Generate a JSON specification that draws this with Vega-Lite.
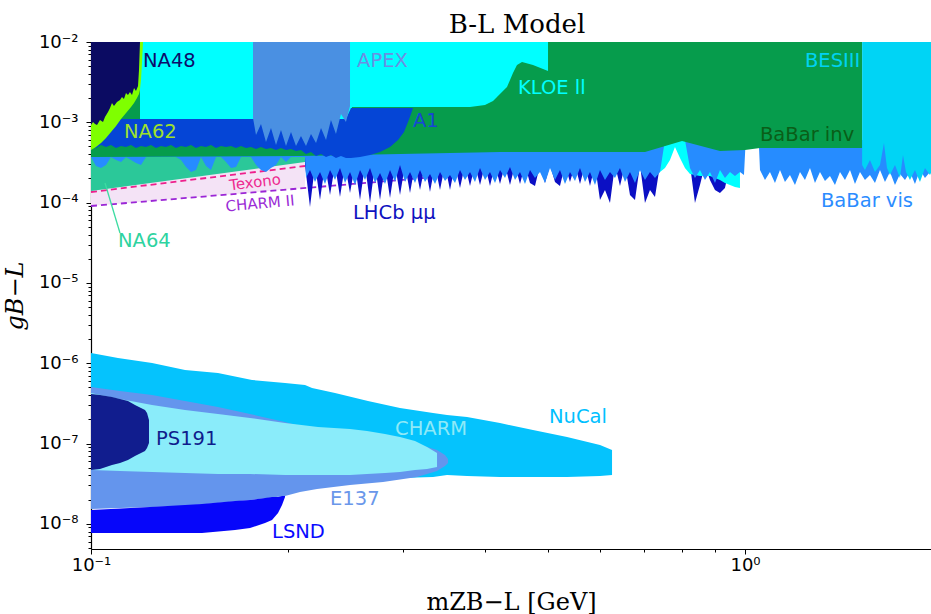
{
"$schema": "https://vega.github.io/schema/vega-lite/v6.json",
"width": 840, "height": 507,
"autosize": {"type": "none"},
"padding": {"left": 91, "top": 42, "right": 0, "bottom": 65},
"background": "white",
"config": {"view": {"stroke": null}},
"title": {"text": "B-L Model", "font": "DejaVu Serif", "fontSize": 26, "fontWeight": "normal", "color": "black", "anchor": "middle", "offset": -26, "baseline": "alphabetic", "dx": 6},
"datasets": {
"lavender": [{"x":0.1,"y":4e-4,"y2":9.07e-5},{"x":0.21243,"y":4e-4,"y2":1.519e-4}],
"texono": [{"x":0.1,"y":1.355e-4},{"x":0.21243,"y":2.856e-4}],
"charm2": [{"x":0.1,"y":9.07e-5},{"x":0.32987,"y":2.054e-4}],
"na64": [{"x":0.1,"y":4e-4,"y2":1.395e-4},{"x":0.21243,"y":4e-4,"y2":3.203e-4}],
"lhcb": [
{"x":0.21243,"y":4.5e-4,"y2":2.938e-4},{"x":0.2162,"y":4.5e-4,"y2":8.81e-5},{"x":0.22004,"y":4.5e-4,"y2":2.938e-4},{"x":0.22395,"y":4.5e-4,"y2":1.077e-4},
{"x":0.22793,"y":4.5e-4,"y2":2.938e-4},{"x":0.23198,"y":4.5e-4,"y2":1.243e-4},{"x":0.2361,"y":4.5e-4,"y2":2.938e-4},{"x":0.24029,"y":4.5e-4,"y2":1.174e-4},
{"x":0.24456,"y":4.5e-4,"y2":2.938e-4},{"x":0.2489,"y":4.5e-4,"y2":1.317e-4},{"x":0.25332,"y":4.5e-4,"y2":2.938e-4},{"x":0.25782,"y":4.5e-4,"y2":1.077e-4},
{"x":0.2624,"y":4.5e-4,"y2":2.938e-4},{"x":0.26706,"y":4.5e-4,"y2":9.886e-5},{"x":0.2718,"y":4.5e-4,"y2":2.938e-4},{"x":0.27663,"y":4.5e-4,"y2":1.077e-4},
{"x":0.28154,"y":4.5e-4,"y2":2.938e-4},{"x":0.28654,"y":4.5e-4,"y2":1.141e-4},{"x":0.29163,"y":4.5e-4,"y2":2.938e-4},{"x":0.29681,"y":4.5e-4,"y2":1.243e-4},
{"x":0.30208,"y":4.5e-4,"y2":2.938e-4},{"x":0.30744,"y":4.5e-4,"y2":1.317e-4},{"x":0.3129,"y":4.5e-4,"y2":2.938e-4},{"x":0.31846,"y":4.5e-4,"y2":1.435e-4},
{"x":0.32411,"y":4.5e-4,"y2":2.938e-4},{"x":0.32987,"y":4.5e-4,"y2":1.355e-4},{"x":0.33573,"y":4.5e-4,"y2":2.938e-4},{"x":0.34169,"y":4.5e-4,"y2":1.435e-4},
{"x":0.34776,"y":4.5e-4,"y2":2.938e-4},{"x":0.35393,"y":4.5e-4,"y2":1.435e-4},{"x":0.36022,"y":4.5e-4,"y2":2.938e-4},{"x":0.36661,"y":4.5e-4,"y2":1.519e-4},
{"x":0.37312,"y":4.5e-4,"y2":2.938e-4},{"x":0.37975,"y":4.5e-4,"y2":1.609e-4},{"x":0.38649,"y":4.5e-4,"y2":2.938e-4},{"x":0.39336,"y":4.5e-4,"y2":1.656e-4},
{"x":0.40034,"y":4.5e-4,"y2":2.938e-4},{"x":0.40745,"y":4.5e-4,"y2":1.609e-4},{"x":0.41469,"y":4.5e-4,"y2":2.938e-4},{"x":0.42205,"y":4.5e-4,"y2":1.704e-4},
{"x":0.42955,"y":4.5e-4,"y2":2.938e-4},{"x":0.43717,"y":4.5e-4,"y2":1.656e-4},{"x":0.44494,"y":4.5e-4,"y2":2.938e-4},{"x":0.45284,"y":4.5e-4,"y2":1.704e-4},
{"x":0.46088,"y":4.5e-4,"y2":2.938e-4},{"x":0.46906,"y":4.5e-4,"y2":1.754e-4},{"x":0.47739,"y":4.5e-4,"y2":1.609e-4},{"x":0.48587,"y":4.5e-4,"y2":2.938e-4},
{"x":0.4945,"y":4.5e-4,"y2":1.754e-4},{"x":0.50328,"y":4.5e-4,"y2":2.938e-4},{"x":0.51222,"y":4.5e-4,"y2":1.805e-4},{"x":0.52131,"y":4.5e-4,"y2":1.609e-4},
{"x":0.53057,"y":4.5e-4,"y2":2.938e-4},{"x":0.53999,"y":4.5e-4,"y2":1.805e-4},{"x":0.54958,"y":4.5e-4,"y2":2.938e-4},{"x":0.55934,"y":4.5e-4,"y2":1.704e-4},
{"x":0.56927,"y":4.5e-4,"y2":2.938e-4},{"x":0.57938,"y":4.5e-4,"y2":1.609e-4},{"x":0.58966,"y":4.5e-4,"y2":2.938e-4},{"x":0.60013,"y":4.5e-4,"y2":1.077e-4},
{"x":0.61079,"y":4.5e-4,"y2":1.435e-4},{"x":0.62164,"y":4.5e-4,"y2":9.886e-5},{"x":0.63268,"y":4.5e-4,"y2":2.938e-4},{"x":0.64391,"y":4.5e-4,"y2":1.609e-4},
{"x":0.65534,"y":4.5e-4,"y2":2.938e-4},{"x":0.66698,"y":4.5e-4,"y2":1.243e-4},{"x":0.67882,"y":4.5e-4,"y2":1.077e-4},{"x":0.69088,"y":4.5e-4,"y2":2.938e-4},
{"x":0.70314,"y":4.5e-4,"y2":9.886e-5},{"x":0.71563,"y":4.5e-4,"y2":1.435e-4},{"x":0.72834,"y":4.5e-4,"y2":1.174e-4},{"x":0.74127,"y":4.5e-4,"y2":2.938e-4},
{"x":0.75443,"y":4.5e-4,"y2":4.5e-4},{"x":0.80946,"y":4.5e-4,"y2":4.5e-4},{"x":0.82383,"y":4.5e-4,"y2":2.938e-4},{"x":0.83846,"y":4.5e-4,"y2":9.886e-5},
{"x":0.85335,"y":4.5e-4,"y2":1.656e-4},{"x":0.8685,"y":4.5e-4,"y2":2.938e-4},{"x":0.88392,"y":4.5e-4,"y2":1.911e-4},{"x":0.89962,"y":4.5e-4,"y2":1.435e-4},
{"x":0.91559,"y":4.5e-4,"y2":1.317e-4},{"x":0.93185,"y":4.5e-4,"y2":1.519e-4},{"x":0.9484,"y":4.5e-4,"y2":2.938e-4}],
"kloe2": [
{"x":0.72834,"y":6e-4,"y2":2.206e-4},{"x":0.74127,"y":6e-4,"y2":2.405e-4},{"x":0.75443,"y":6e-4,"y2":2.697e-4},{"x":0.76783,"y":6e-4,"y2":3.392e-4},
{"x":0.78146,"y":6e-4,"y2":4.926e-4},{"x":0.79534,"y":6e-4,"y2":3.592e-4},{"x":0.80946,"y":6e-4,"y2":2.697e-4},{"x":0.82383,"y":6e-4,"y2":2.271e-4},
{"x":0.85335,"y":6e-4,"y2":2.144e-4},{"x":0.88392,"y":6e-4,"y2":2.144e-4},{"x":0.91559,"y":6e-4,"y2":1.911e-4},{"x":0.93185,"y":6e-4,"y2":1.754e-4},
{"x":0.9484,"y":6e-4,"y2":1.656e-4},{"x":0.96524,"y":6e-4,"y2":1.564e-4},{"x":0.98238,"y":6e-4,"y2":1.519e-4}],
"babarvis": [
{"x":0.1,"y":6e-4,"y2":3.697e-4},{"x":0.10178,"y":6e-4,"y2":2.856e-4},{"x":0.10359,"y":6e-4,"y2":2.697e-4},{"x":0.10543,"y":6e-4,"y2":2.938e-4},
{"x":0.1073,"y":6e-4,"y2":3.697e-4},{"x":0.10921,"y":6e-4,"y2":3.392e-4},{"x":0.11115,"y":6e-4,"y2":3.203e-4},{"x":0.11312,"y":6e-4,"y2":3.697e-4},
{"x":0.11513,"y":6e-4,"y2":3.392e-4},{"x":0.11717,"y":6e-4,"y2":3.113e-4},{"x":0.11925,"y":6e-4,"y2":2.938e-4},{"x":0.12137,"y":6e-4,"y2":3.697e-4},
{"x":0.13489,"y":6e-4,"y2":3.697e-4},{"x":0.13729,"y":6e-4,"y2":3.392e-4},{"x":0.13972,"y":6e-4,"y2":2.775e-4},{"x":0.14221,"y":6e-4,"y2":2.405e-4},
{"x":0.14473,"y":6e-4,"y2":2.547e-4},{"x":0.1473,"y":6e-4,"y2":3.697e-4},{"x":0.14992,"y":6e-4,"y2":2.856e-4},{"x":0.15258,"y":6e-4,"y2":2.547e-4},
{"x":0.15529,"y":6e-4,"y2":3.697e-4},{"x":0.15805,"y":6e-4,"y2":3.697e-4},{"x":0.16085,"y":6e-4,"y2":3.203e-4},{"x":0.16371,"y":6e-4,"y2":2.697e-4},
{"x":0.16662,"y":6e-4,"y2":2.775e-4},{"x":0.16958,"y":6e-4,"y2":3.697e-4},{"x":0.17565,"y":6e-4,"y2":3.697e-4},{"x":0.17877,"y":6e-4,"y2":2.938e-4},
{"x":0.18194,"y":6e-4,"y2":2.547e-4},{"x":0.18517,"y":6e-4,"y2":2.405e-4},{"x":0.18846,"y":6e-4,"y2":2.697e-4},{"x":0.19181,"y":6e-4,"y2":2.938e-4},
{"x":0.19521,"y":6e-4,"y2":3.697e-4},{"x":0.19868,"y":6e-4,"y2":3.203e-4},{"x":0.20221,"y":6e-4,"y2":3.697e-4},{"x":0.21243,"y":6e-4,"y2":3.697e-4},
{"x":0.21317,"y":6e-4,"y2":2.024e-4},{"x":0.2162,"y":6e-4,"y2":2.547e-4},{"x":0.22004,"y":6e-4,"y2":1.805e-4},{"x":0.22395,"y":6e-4,"y2":2.405e-4},
{"x":0.22793,"y":6e-4,"y2":1.704e-4},{"x":0.23198,"y":6e-4,"y2":2.547e-4},{"x":0.2361,"y":6e-4,"y2":1.911e-4},{"x":0.24029,"y":6e-4,"y2":2.697e-4},
{"x":0.24456,"y":6e-4,"y2":1.754e-4},{"x":0.2489,"y":6e-4,"y2":2.405e-4},{"x":0.25332,"y":6e-4,"y2":1.656e-4},{"x":0.25782,"y":6e-4,"y2":2.547e-4},
{"x":0.2624,"y":6e-4,"y2":1.911e-4},{"x":0.26706,"y":6e-4,"y2":2.697e-4},{"x":0.2718,"y":6e-4,"y2":1.754e-4},{"x":0.27663,"y":6e-4,"y2":2.336e-4},
{"x":0.28154,"y":6e-4,"y2":1.704e-4},{"x":0.28654,"y":6e-4,"y2":2.547e-4},{"x":0.29163,"y":6e-4,"y2":1.805e-4},{"x":0.29681,"y":6e-4,"y2":2.938e-4},
{"x":0.30208,"y":6e-4,"y2":1.805e-4},{"x":0.30744,"y":6e-4,"y2":2.405e-4},{"x":0.3129,"y":6e-4,"y2":1.754e-4},{"x":0.31846,"y":6e-4,"y2":2.547e-4},
{"x":0.32411,"y":6e-4,"y2":1.805e-4},{"x":0.32987,"y":6e-4,"y2":2.271e-4},{"x":0.33573,"y":6e-4,"y2":1.704e-4},{"x":0.34169,"y":6e-4,"y2":2.405e-4},
{"x":0.34776,"y":6e-4,"y2":1.858e-4},{"x":0.35393,"y":6e-4,"y2":2.206e-4},{"x":0.36022,"y":6e-4,"y2":1.754e-4},{"x":0.36661,"y":6e-4,"y2":2.547e-4},
{"x":0.37312,"y":6e-4,"y2":1.911e-4},{"x":0.37975,"y":6e-4,"y2":2.405e-4},{"x":0.38649,"y":6e-4,"y2":1.805e-4},{"x":0.39336,"y":6e-4,"y2":2.697e-4},
{"x":0.40034,"y":6e-4,"y2":1.911e-4},{"x":0.40745,"y":6e-4,"y2":2.405e-4},{"x":0.41469,"y":6e-4,"y2":1.754e-4},{"x":0.42205,"y":6e-4,"y2":2.547e-4},
{"x":0.42955,"y":6e-4,"y2":2.024e-4},{"x":0.43717,"y":6e-4,"y2":2.775e-4},{"x":0.44494,"y":6e-4,"y2":1.911e-4},{"x":0.45284,"y":6e-4,"y2":2.405e-4},
{"x":0.46088,"y":6e-4,"y2":1.704e-4},{"x":0.46906,"y":6e-4,"y2":2.547e-4},{"x":0.47739,"y":6e-4,"y2":2.024e-4},{"x":0.48587,"y":6e-4,"y2":2.405e-4},
{"x":0.4945,"y":6e-4,"y2":1.754e-4},{"x":0.50328,"y":6e-4,"y2":2.697e-4},{"x":0.51222,"y":6e-4,"y2":1.911e-4},{"x":0.52131,"y":6e-4,"y2":2.547e-4},
{"x":0.53057,"y":6e-4,"y2":1.704e-4},{"x":0.53999,"y":6e-4,"y2":2.405e-4},{"x":0.54958,"y":6e-4,"y2":1.858e-4},{"x":0.55934,"y":6e-4,"y2":2.697e-4},
{"x":0.56927,"y":6e-4,"y2":1.805e-4},{"x":0.57938,"y":6e-4,"y2":2.405e-4},{"x":0.58966,"y":6e-4,"y2":1.656e-4},{"x":0.60013,"y":6e-4,"y2":2.547e-4},
{"x":0.61079,"y":6e-4,"y2":1.911e-4},{"x":0.62164,"y":6e-4,"y2":2.405e-4},{"x":0.63268,"y":6e-4,"y2":2.024e-4},{"x":0.64391,"y":6e-4,"y2":2.697e-4},
{"x":0.65534,"y":6e-4,"y2":1.805e-4},{"x":0.66698,"y":6e-4,"y2":2.405e-4},{"x":0.67882,"y":6e-4,"y2":1.754e-4},{"x":0.69088,"y":6e-4,"y2":2.547e-4},
{"x":0.70314,"y":6e-4,"y2":1.911e-4},{"x":0.71563,"y":6e-4,"y2":2.405e-4},{"x":0.72834,"y":6e-4,"y2":2.024e-4},{"x":0.74127,"y":6e-4,"y2":2.405e-4},
{"x":0.75443,"y":6e-4,"y2":6e-4},{"x":0.80946,"y":6e-4,"y2":6e-4},{"x":0.82383,"y":6e-4,"y2":2.697e-4},{"x":0.83846,"y":6e-4,"y2":2.024e-4},
{"x":0.85335,"y":6e-4,"y2":2.547e-4},{"x":0.8685,"y":6e-4,"y2":1.911e-4},{"x":0.88392,"y":6e-4,"y2":2.405e-4},{"x":0.89962,"y":6e-4,"y2":1.754e-4},
{"x":0.91559,"y":6e-4,"y2":2.547e-4},{"x":0.93185,"y":6e-4,"y2":2.024e-4},{"x":0.9484,"y":6e-4,"y2":2.405e-4},{"x":0.96524,"y":6e-4,"y2":2.144e-4},
{"x":0.98238,"y":6e-4,"y2":2.405e-4},{"x":0.9963,"y":6e-4,"y2":2.206e-4},{"x":1.0013,"y":6e-4,"y2":4.926e-4},{"x":1.0504,"y":6e-4,"y2":4.926e-4},
{"x":1.0541,"y":6e-4,"y2":2.547e-4},{"x":1.0728,"y":6e-4,"y2":1.911e-4},{"x":1.0918,"y":6e-4,"y2":2.405e-4},{"x":1.1112,"y":6e-4,"y2":1.754e-4},
{"x":1.131,"y":6e-4,"y2":2.547e-4},{"x":1.151,"y":6e-4,"y2":1.805e-4},{"x":1.1715,"y":6e-4,"y2":2.206e-4},{"x":1.1923,"y":6e-4,"y2":1.656e-4},
{"x":1.2135,"y":6e-4,"y2":2.405e-4},{"x":1.235,"y":6e-4,"y2":1.911e-4},{"x":1.257,"y":6e-4,"y2":2.697e-4},{"x":1.2793,"y":6e-4,"y2":1.754e-4},
{"x":1.302,"y":6e-4,"y2":2.405e-4},{"x":1.3251,"y":6e-4,"y2":1.858e-4},{"x":1.3487,"y":6e-4,"y2":2.144e-4},{"x":1.3726,"y":6e-4,"y2":1.656e-4},
{"x":1.397,"y":6e-4,"y2":2.405e-4},{"x":1.4218,"y":6e-4,"y2":1.911e-4},{"x":1.4471,"y":6e-4,"y2":2.547e-4},{"x":1.4728,"y":6e-4,"y2":1.704e-4},
{"x":1.4989,"y":6e-4,"y2":2.405e-4},{"x":1.5255,"y":6e-4,"y2":1.911e-4},{"x":1.5526,"y":6e-4,"y2":2.206e-4},{"x":1.5802,"y":6e-4,"y2":1.754e-4},
{"x":1.6083,"y":6e-4,"y2":2.547e-4},{"x":1.6368,"y":6e-4,"y2":1.805e-4},{"x":1.6659,"y":6e-4,"y2":2.405e-4},{"x":1.6955,"y":6e-4,"y2":1.656e-4},
{"x":1.7256,"y":6e-4,"y2":2.271e-4},{"x":1.7562,"y":6e-4,"y2":1.911e-4},{"x":1.7874,"y":6e-4,"y2":2.405e-4},{"x":1.8191,"y":6e-4,"y2":1.704e-4},
{"x":1.8514,"y":6e-4,"y2":2.547e-4},{"x":1.8843,"y":6e-4,"y2":2.024e-4},{"x":1.9177,"y":6e-4,"y2":2.405e-4},{"x":1.9517,"y":6e-4,"y2":2.206e-4}],
"green": [
{"x":0.1,"y":0.01,"y2":3.697e-4},{"x":0.20873,"y":0.01,"y2":3.804e-4},{"x":0.29681,"y":0.01,"y2":4.028e-4},{"x":0.42205,"y":0.01,"y2":4.266e-4},
{"x":0.70314,"y":0.01,"y2":4.266e-4},{"x":0.8011,"y":0.01,"y2":5.85e-4},{"x":0.91559,"y":0.01,"y2":4.391e-4},{"x":0.99982,"y":0.01,"y2":4.519e-4},
{"x":1.0541,"y":0.01,"y2":4.786e-4},{"x":1.5103,"y":0.01,"y2":4.786e-4}],
"besiii": [
{"x":1.5103,"y":0.01,"y2":2.938e-4},{"x":1.5255,"y":0.01,"y2":2.547e-4},{"x":1.5526,"y":0.01,"y2":3.392e-4},{"x":1.5802,"y":0.01,"y2":2.405e-4},
{"x":1.6083,"y":0.01,"y2":2.938e-4},{"x":1.6311,"y":0.01,"y2":5.524e-4},{"x":1.6484,"y":0.01,"y2":2.697e-4},{"x":1.6659,"y":0.01,"y2":2.206e-4},
{"x":1.6955,"y":0.01,"y2":2.938e-4},{"x":1.7256,"y":0.01,"y2":2.024e-4},{"x":1.7439,"y":0.01,"y2":3.915e-4},{"x":1.7624,"y":0.01,"y2":2.405e-4},
{"x":1.7874,"y":0.01,"y2":1.911e-4},{"x":1.8191,"y":0.01,"y2":2.547e-4},{"x":1.8514,"y":0.01,"y2":1.805e-4},{"x":1.8843,"y":0.01,"y2":2.697e-4},
{"x":1.9177,"y":0.01,"y2":2.206e-4},{"x":1.9517,"y":0.01,"y2":2.938e-4}],
"kloe": [
{"x":0.11883,"y":0.01,"y2":1.068e-3},{"x":0.2489,"y":0.01,"y2":1.0995e-3},{"x":0.25066,"y":0.01,"y2":1.551e-3},{"x":0.37975,"y":0.01,"y2":1.551e-3},
{"x":0.40034,"y":0.01,"y2":1.642e-3},{"x":0.41178,"y":0.01,"y2":1.842e-3},{"x":0.41762,"y":0.01,"y2":2.066e-3},{"x":0.42503,"y":0.01,"y2":2.384e-3},
{"x":0.43258,"y":0.01,"y2":2.752e-3},{"x":0.44179,"y":0.01,"y2":4.111e-3},{"x":0.44808,"y":0.01,"y2":5.172e-3},{"x":0.45604,"y":0.01,"y2":5.636e-3},
{"x":0.47403,"y":0.01,"y2":5.172e-3},{"x":0.4998,"y":0.01,"y2":4.354e-3}],
"a1": [
{"x":0.1,"y":1.0995e-3,"y2":5.07e-4},{"x":0.10178,"y":1.0995e-3,"y2":4.786e-4},{"x":0.10359,"y":1.0995e-3,"y2":5.217e-4},{"x":0.10543,"y":1.0995e-3,"y2":4.926e-4},
{"x":0.1073,"y":1.0995e-3,"y2":5.217e-4},{"x":0.10921,"y":1.0995e-3,"y2":4.786e-4},{"x":0.11115,"y":1.0995e-3,"y2":5.07e-4},{"x":0.11312,"y":1.0995e-3,"y2":4.926e-4},
{"x":0.11513,"y":1.0995e-3,"y2":5.217e-4},{"x":0.11717,"y":1.0995e-3,"y2":4.786e-4},{"x":0.11925,"y":1.0995e-3,"y2":5.07e-4},{"x":0.12137,"y":1.0995e-3,"y2":4.926e-4},
{"x":0.12353,"y":1.0995e-3,"y2":5.217e-4},{"x":0.12572,"y":1.0995e-3,"y2":4.786e-4},{"x":0.12795,"y":1.0995e-3,"y2":5.07e-4},{"x":0.13022,"y":1.0995e-3,"y2":4.926e-4},
{"x":0.13254,"y":1.0995e-3,"y2":5.217e-4},{"x":0.13489,"y":1.0995e-3,"y2":4.786e-4},{"x":0.13729,"y":1.0995e-3,"y2":5.07e-4},{"x":0.13972,"y":1.0995e-3,"y2":4.926e-4},
{"x":0.14221,"y":1.0995e-3,"y2":5.217e-4},{"x":0.14473,"y":1.0995e-3,"y2":4.786e-4},{"x":0.1473,"y":1.0995e-3,"y2":5.07e-4},{"x":0.14992,"y":1.0995e-3,"y2":4.926e-4},
{"x":0.15258,"y":1.0995e-3,"y2":5.217e-4},{"x":0.15529,"y":1.0995e-3,"y2":4.786e-4},{"x":0.15805,"y":1.0995e-3,"y2":5.07e-4},{"x":0.16085,"y":1.0995e-3,"y2":4.926e-4},
{"x":0.16371,"y":1.0995e-3,"y2":5.07e-4},{"x":0.16662,"y":1.0995e-3,"y2":4.786e-4},{"x":0.16958,"y":1.0995e-3,"y2":5.07e-4},{"x":0.17259,"y":1.0995e-3,"y2":4.786e-4},
{"x":0.17565,"y":1.0995e-3,"y2":4.926e-4},{"x":0.17877,"y":1.0995e-3,"y2":4.651e-4},{"x":0.18194,"y":1.0995e-3,"y2":4.926e-4},{"x":0.18517,"y":1.0995e-3,"y2":4.651e-4},
{"x":0.18846,"y":1.0995e-3,"y2":4.786e-4},{"x":0.19181,"y":1.0995e-3,"y2":4.519e-4},{"x":0.19521,"y":1.0995e-3,"y2":4.786e-4},{"x":0.19868,"y":1.0995e-3,"y2":4.519e-4},
{"x":0.20221,"y":1.0995e-3,"y2":4.651e-4},{"x":0.2058,"y":1.0995e-3,"y2":4.391e-4},{"x":0.20945,"y":1.0995e-3,"y2":4.519e-4},{"x":0.21317,"y":1.0995e-3,"y2":4.028e-4},
{"x":0.21695,"y":1.0995e-3,"y2":4.266e-4},{"x":0.22083,"y":1.0995e-3,"y2":3.804e-4},{"x":0.22474,"y":1.0995e-3,"y2":4.028e-4},{"x":0.22874,"y":1.0995e-3,"y2":3.697e-4},
{"x":0.23275,"y":1.0995e-3,"y2":3.915e-4},{"x":0.2369,"y":1.0995e-3,"y2":3.592e-4},{"x":0.2411,"y":1.0995e-3,"y2":3.804e-4},{"x":0.24538,"y":1.0995e-3,"y2":3.592e-4},
{"x":0.24975,"y":1.507e-3,"y2":3.592e-4},{"x":0.25782,"y":1.507e-3,"y2":3.697e-4},{"x":0.26706,"y":1.507e-3,"y2":3.915e-4},{"x":0.27663,"y":1.507e-3,"y2":4.266e-4},
{"x":0.28654,"y":1.507e-3,"y2":4.926e-4},{"x":0.29473,"y":1.507e-3,"y2":6.02e-4},{"x":0.30102,"y":1.507e-3,"y2":7.57e-4},{"x":0.30528,"y":1.507e-3,"y2":1.0085e-3},
{"x":0.30852,"y":1.507e-3,"y2":1.269e-3},{"x":0.3107,"y":1.507e-3,"y2":1.507e-3}],
"apex": [
{"x":0.17689,"y":0.01,"y2":1.131e-3},{"x":0.17877,"y":0.01,"y2":6.95e-4},{"x":0.18194,"y":0.01,"y2":9.52e-4},{"x":0.18517,"y":0.01,"y2":5.685e-4},
{"x":0.18846,"y":0.01,"y2":8.49e-4},{"x":0.19181,"y":0.01,"y2":5.217e-4},{"x":0.19521,"y":0.01,"y2":8.02e-4},{"x":0.19868,"y":0.01,"y2":5.07e-4},
{"x":0.20221,"y":0.01,"y2":7.57e-4},{"x":0.2058,"y":0.01,"y2":5.07e-4},{"x":0.20945,"y":0.01,"y2":6.75e-4},{"x":0.21317,"y":0.01,"y2":5.07e-4},
{"x":0.21695,"y":0.01,"y2":7.15e-4},{"x":0.22083,"y":0.01,"y2":5.524e-4},{"x":0.22474,"y":0.01,"y2":8.49e-4},{"x":0.22874,"y":0.01,"y2":6.02e-4},
{"x":0.23275,"y":0.01,"y2":1.068e-3},{"x":0.2369,"y":0.01,"y2":7.15e-4},{"x":0.2411,"y":0.01,"y2":1.269e-3},{"x":0.24538,"y":0.01,"y2":1.0085e-3},
{"x":0.2489,"y":0.01,"y2":1.596e-3}],
"na62": [
{"x":0.1,"y":0.01,"y2":4.519e-4},{"x":0.10178,"y":0.01,"y2":4.926e-4},{"x":0.10359,"y":0.01,"y2":5.524e-4},{"x":0.10543,"y":0.01,"y2":6.374e-4},
{"x":0.1073,"y":0.01,"y2":7.57e-4},{"x":0.10921,"y":0.01,"y2":8.99e-4},{"x":0.11115,"y":0.01,"y2":1.0995e-3},{"x":0.11312,"y":0.01,"y2":1.306e-3},
{"x":0.11513,"y":0.01,"y2":1.551e-3},{"x":0.11635,"y":0.01,"y2":1.739e-3},{"x":0.11758,"y":0.01,"y2":2.007e-3},{"x":0.11841,"y":0.01,"y2":2.252e-3},
{"x":0.1188,"y":0.01,"y2":2.525e-3},{"x":0.11925,"y":0.01,"y2":3.364e-3},{"x":0.11967,"y":0.01,"y2":5.636e-3},{"x":0.1201,"y":0.01,"y2":0.01}],
"na48": [
{"x":0.1,"y":0.01,"y2":9.26e-4},{"x":0.10071,"y":0.01,"y2":1.0085e-3},{"x":0.10142,"y":0.01,"y2":9.52e-4},{"x":0.10214,"y":0.01,"y2":9.26e-4},
{"x":0.10322,"y":0.01,"y2":1.068e-3},{"x":0.10432,"y":0.01,"y2":1.0085e-3},{"x":0.10505,"y":0.01,"y2":1.164e-3},{"x":0.10617,"y":0.01,"y2":1.343e-3},
{"x":0.10692,"y":0.01,"y2":1.507e-3},{"x":0.10767,"y":0.01,"y2":1.739e-3},{"x":0.10843,"y":0.01,"y2":1.596e-3},{"x":0.10958,"y":0.01,"y2":1.79e-3},
{"x":0.11075,"y":0.01,"y2":1.896e-3},{"x":0.11153,"y":0.01,"y2":2.066e-3},{"x":0.11231,"y":0.01,"y2":1.95e-3},{"x":0.11311,"y":0.01,"y2":2.317e-3},
{"x":0.1139,"y":0.01,"y2":2.188e-3},{"x":0.11471,"y":0.01,"y2":2.384e-3},{"x":0.11553,"y":0.01,"y2":2.188e-3},{"x":0.11635,"y":0.01,"y2":2.673e-3},
{"x":0.11717,"y":0.01,"y2":2.454e-3},{"x":0.118,"y":0.01,"y2":2.831e-3},{"x":0.11841,"y":0.01,"y2":4.479e-3},{"x":0.11883,"y":0.01,"y2":0.01}],
"nucal": [
{"x":0.1,"y":1.34e-6,"y2":3.51e-8},{"x":0.10997,"y":1.161e-6,"y2":3.51e-8},{"x":0.12399,"y":1.006e-6,"y2":3.51e-8},{"x":0.13924,"y":8.226e-7,"y2":3.51e-8},
{"x":0.15636,"y":7.551e-7,"y2":3.51e-8},{"x":0.17629,"y":6.177e-7,"y2":3.612e-8},{"x":0.198,"y":5.667e-7,"y2":3.612e-8},{"x":0.21243,"y":5.351e-7,"y2":3.612e-8},
{"x":0.21776,"y":4.911e-7,"y2":3.612e-8},{"x":0.2361,"y":4.255e-7,"y2":3.612e-8},{"x":0.26513,"y":3.383e-7,"y2":3.612e-8},{"x":0.29681,"y":2.768e-7,"y2":3.717e-8},
{"x":0.33341,"y":2.398e-7,"y2":3.826e-8},{"x":0.35024,"y":2.264e-7,"y2":4.052e-8},{"x":0.37577,"y":2.138e-7,"y2":3.937e-8},{"x":0.42205,"y":1.8e-7,"y2":3.826e-8},
{"x":0.47403,"y":1.472e-7,"y2":3.826e-8},{"x":0.53437,"y":1.205e-7,"y2":3.826e-8},{"x":0.60013,"y":9.58e-8,"y2":3.937e-8},{"x":0.62613,"y":8.3e-8,"y2":4.052e-8}],
"e137": [
{"x":0.1,"y":5.053e-7,"y2":1.528e-8},{"x":0.11075,"y":4.506e-7,"y2":1.573e-8},{"x":0.12399,"y":4.018e-7,"y2":1.618e-8},{"x":0.13924,"y":3.383e-7,"y2":1.665e-8},
{"x":0.15636,"y":2.848e-7,"y2":1.815e-8},{"x":0.17505,"y":2.33e-7,"y2":1.978e-8},{"x":0.198,"y":1.852e-7,"y2":2.219e-8},{"x":0.20873,"y":1.652e-7,"y2":2.489e-8},
{"x":0.22163,"y":1.516e-7,"y2":2.712e-8},{"x":0.2489,"y":1.313e-7,"y2":3.042e-8},{"x":0.27958,"y":1.171e-7,"y2":3.315e-8},{"x":0.31514,"y":9.858e-8,"y2":3.826e-8},
{"x":0.33813,"y":8.3e-8,"y2":4.545e-8},{"x":0.34776,"y":7.19e-8,"y2":5.246e-8},{"x":0.35148,"y":6.412e-8,"y2":5.717e-8}],
"charm": [
{"x":0.1,"y":4.255e-7,"y2":4.677e-8},{"x":0.11075,"y":3.583e-7,"y2":4.545e-8},{"x":0.12399,"y":3.015e-7,"y2":4.416e-8},{"x":0.13924,"y":2.613e-7,"y2":4.291e-8},
{"x":0.15636,"y":2.33e-7,"y2":4.17e-8},{"x":0.17505,"y":2.078e-7,"y2":4.17e-8},{"x":0.198,"y":1.8e-7,"y2":4.052e-8},{"x":0.22241,"y":1.605e-7,"y2":4.052e-8},
{"x":0.2489,"y":1.516e-7,"y2":4.052e-8},{"x":0.26427,"y":1.431e-7,"y2":4.17e-8},{"x":0.28154,"y":1.313e-7,"y2":4.291e-8},{"x":0.29681,"y":1.205e-7,"y2":4.416e-8},
{"x":0.3129,"y":1.074e-7,"y2":4.677e-8},{"x":0.32643,"y":9.045e-8,"y2":4.813e-8},{"x":0.33813,"y":7.615e-8,"y2":5.097e-8}],
"ps191": [
{"x":0.1,"y":4.135e-7,"y2":4.677e-8},{"x":0.10322,"y":4.018e-7,"y2":4.813e-8},{"x":0.10767,"y":3.794e-7,"y2":5.399e-8},{"x":0.11075,"y":3.583e-7,"y2":5.717e-8},
{"x":0.1139,"y":3.383e-7,"y2":6.229e-8},{"x":0.11675,"y":3.015e-7,"y2":6.99e-8},{"x":0.11925,"y":2.768e-7,"y2":7.615e-8},{"x":0.12094,"y":2.613e-7,"y2":8.064e-8},
{"x":0.1218,"y":2.398e-7,"y2":8.79e-8},{"x":0.12265,"y":1.962e-7,"y2":1.014e-7}],
"lsnd": [
{"x":0.1,"y":1.485e-8,"y2":7.68e-9},{"x":0.12308,"y":1.618e-8,"y2":7.68e-9},{"x":0.13924,"y":1.714e-8,"y2":7.68e-9},{"x":0.14779,"y":1.764e-8,"y2":7.68e-9},
{"x":0.16604,"y":1.922e-8,"y2":8.37e-9},{"x":0.17505,"y":1.978e-8,"y2":8.866e-9},{"x":0.18454,"y":2.095e-8,"y2":1.023e-8},{"x":0.18914,"y":2.156e-8,"y2":1.115e-8},
{"x":0.19318,"y":2.156e-8,"y2":1.363e-8},{"x":0.19592,"y":2.219e-8,"y2":1.714e-8},{"x":0.198,"y":2.219e-8,"y2":2.156e-8}],
"leader": [{"x":0.11075,"y":4.18e-5,"x2":0.10505,"y2":1.754e-4}],
"labels": [
{"name":"NA48","x":0.1201,"y":4.884e-3},{"name":"NA62","x":0.11231,"y":6.43e-4},{"name":"NA64","x":0.10997,"y":2.824e-5},
{"name":"APEX","x":0.25517,"y":4.884e-3},{"name":"A1","x":0.3107,"y":8.664e-4},{"name":"KLOE ll","x":0.44965,"y":2.252e-3},
{"name":"BESIII","x":1.235,"y":4.925e-3},{"name":"BaBar inv","x":1.0541,"y":5.9e-4},{"name":"BaBar vis","x":1.3066,"y":8.74e-5},
{"name":"LHCb μμ","x":0.25154,"y":6.339e-5},{"name":"PS191","x":0.12572,"y":9.5e-8},{"name":"CHARM","x":0.29163,"y":1.265e-7},
{"name":"NuCal","x":0.50151,"y":1.785e-7},{"name":"E137","x":0.23198,"y":1.714e-8},{"name":"LSND","x":0.18914,"y":6.714e-9}],
"slanted": [{"name":"Texono","x":0.17814,"y":1.79e-4},{"name":"CHARM II","x":0.18131,"y":9.745e-5}]
},
"encoding": {
"x": {"field": "x", "type": "quantitative",
 "scale": {"type": "log", "domain": [0.1, 1.9247], "nice": false},
 "axis": {"title": "mZB−L [GeV]", "values": [0.1,0.2,0.3,0.4,0.5,0.6,0.7,0.8,0.9,1],
  "labelExpr": "abs(log(datum.value)/LN10 - round(log(datum.value)/LN10)) < 0.001 ? '10' + (round(log(datum.value)/LN10) < 0 ? '⁻' : '') + ['⁰','¹','²','³','⁴','⁵','⁶','⁷','⁸','⁹'][abs(round(log(datum.value)/LN10))] : ''",
  "labelFont": "DejaVu Sans", "labelFontSize": 18, "labelColor": "black", "labelPadding": 2, "labelOverlap": false, "labelFlush": false,
  "tickColor": "black", "tickWidth": 1,
  "tickSize": {"condition": {"test": "abs(log(datum.value)/LN10 - round(log(datum.value)/LN10)) < 0.001", "value": 5}, "value": 3},
  "domainColor": "black", "domainWidth": 1.2, "grid": false,
  "titleFont": "DejaVu Serif", "titleFontSize": 24, "titleFontWeight": "normal", "titleColor": "black", "titleY": 60, "titleBaseline": "alphabetic"}},
"y": {"field": "y", "type": "quantitative",
 "scale": {"type": "log", "domain": [4.856e-9, 0.01], "nice": false},
 "axis": {"title": "gB−L", "values": [5e-9,6e-9,7e-9,8e-9,9e-9,1e-8,2e-8,3e-8,4e-8,5e-8,6e-8,7e-8,8e-8,9e-8,1e-7,2e-7,3e-7,4e-7,5e-7,6e-7,7e-7,8e-7,9e-7,1e-6,2e-6,3e-6,4e-6,5e-6,6e-6,7e-6,8e-6,9e-6,1e-5,2e-5,3e-5,4e-5,5e-5,6e-5,7e-5,8e-5,9e-5,1e-4,2e-4,3e-4,4e-4,5e-4,6e-4,7e-4,8e-4,9e-4,1e-3,2e-3,3e-3,4e-3,5e-3,6e-3,7e-3,8e-3,9e-3,1e-2],
  "labelExpr": "abs(log(datum.value)/LN10 - round(log(datum.value)/LN10)) < 0.001 ? '10' + (round(log(datum.value)/LN10) < 0 ? '⁻' : '') + ['⁰','¹','²','³','⁴','⁵','⁶','⁷','⁸','⁹'][abs(round(log(datum.value)/LN10))] : ''",
  "labelFont": "DejaVu Sans", "labelFontSize": 18, "labelColor": "black", "labelPadding": 8, "labelOverlap": false, "labelFlush": false,
  "tickColor": "black", "tickWidth": 1,
  "tickSize": {"condition": {"test": "abs(log(datum.value)/LN10 - round(log(datum.value)/LN10)) < 0.001", "value": 5}, "value": 3},
  "domainColor": "black", "domainWidth": 1.2, "grid": false,
  "titleFont": "DejaVu Serif", "titleFontSize": 24, "titleFontWeight": "normal", "titleFontStyle": "italic", "titleColor": "black", "titleX": -76, "titleY": 253.5, "titleBaseline": "middle", "titleAlign": "center", "titleAngle": 270}}
},
"layer": [
{"data": {"name": "lavender"}, "mark": {"type": "area", "clip": true, "color": "#f4e3f6"}, "encoding": {"y2": {"field": "y2"}}},
{"data": {"name": "texono"}, "mark": {"type": "line", "clip": true, "color": "#ee1f8c", "strokeWidth": 1.8, "strokeDash": [6, 4]}, "encoding": {}},
{"data": {"name": "charm2"}, "mark": {"type": "line", "clip": true, "color": "#9b26d6", "strokeWidth": 1.8, "strokeDash": [6, 4]}, "encoding": {}},
{"data": {"name": "na64"}, "mark": {"type": "area", "clip": true, "color": "#2bc899"}, "encoding": {"y2": {"field": "y2"}}},
{"data": {"name": "lhcb"}, "mark": {"type": "area", "clip": true, "color": "#0b0fc4"}, "encoding": {"y2": {"field": "y2"}}},
{"data": {"name": "kloe2"}, "mark": {"type": "area", "clip": true, "color": "#00ffff"}, "encoding": {"y2": {"field": "y2"}}},
{"data": {"name": "babarvis"}, "mark": {"type": "area", "clip": true, "color": "#268cff"}, "encoding": {"y2": {"field": "y2"}}},
{"data": {"name": "green"}, "mark": {"type": "area", "clip": true, "color": "#069c4c"}, "encoding": {"y2": {"field": "y2"}}},
{"data": {"name": "besiii"}, "mark": {"type": "area", "clip": true, "color": "#00d4f5"}, "encoding": {"y2": {"field": "y2"}}},
{"data": {"name": "kloe"}, "mark": {"type": "area", "clip": true, "color": "#00ffff"}, "encoding": {"y2": {"field": "y2"}}},
{"data": {"name": "a1"}, "mark": {"type": "area", "clip": true, "color": "#0545d6"}, "encoding": {"y2": {"field": "y2"}}},
{"data": {"name": "apex"}, "mark": {"type": "area", "clip": true, "color": "#4a90e2"}, "encoding": {"y2": {"field": "y2"}}},
{"data": {"name": "na62"}, "mark": {"type": "area", "clip": true, "color": "#7fff00"}, "encoding": {"y2": {"field": "y2"}}},
{"data": {"name": "na48"}, "mark": {"type": "area", "clip": true, "color": "#0b0b62"}, "encoding": {"y2": {"field": "y2"}}},
{"data": {"name": "nucal"}, "mark": {"type": "area", "clip": true, "color": "#05c3fd"}, "encoding": {"y2": {"field": "y2"}}},
{"data": {"name": "e137"}, "mark": {"type": "area", "clip": true, "color": "#6495ed"}, "encoding": {"y2": {"field": "y2"}}},
{"data": {"name": "charm"}, "mark": {"type": "area", "clip": true, "color": "#8aecfa"}, "encoding": {"y2": {"field": "y2"}}},
{"data": {"name": "ps191"}, "mark": {"type": "area", "clip": true, "color": "#111d8e"}, "encoding": {"y2": {"field": "y2"}}},
{"data": {"name": "lsnd"}, "mark": {"type": "area", "clip": true, "color": "#0606fa"}, "encoding": {"y2": {"field": "y2"}}},
{"data": {"name": "leader"}, "mark": {"type": "rule", "color": "#3ddca2", "strokeWidth": 1.3}, "encoding": {"x2": {"field": "x2"}, "y2": {"field": "y2"}}},
{"data": {"name": "labels"}, "mark": {"type": "text", "align": "left", "baseline": "alphabetic", "font": "DejaVu Sans", "fontSize": 19.5},
 "encoding": {"text": {"field": "name"}, "color": {"field": "name", "type": "nominal", "legend": null,
  "scale": {"domain": ["NA48","NA62","NA64","APEX","A1","KLOE ll","BESIII","BaBar inv","BaBar vis","LHCb μμ","PS191","CHARM","NuCal","E137","LSND"],
            "range": ["#0d0d6b","#9fe02a","#2ed3a0","#6b8fe3","#1747d6","#00ffff","#00d2f2","#0a5e18","#2b8cff","#0f12c0","#101c8c","#8fe9f7","#00c0ff","#6a97ea","#0a0aff"]}}}},
{"data": {"name": "slanted"}, "transform": [{"filter": "datum.name == 'Texono'"}], "mark": {"type": "text", "align": "center", "baseline": "middle", "font": "DejaVu Sans", "fontSize": 15, "angle": 353, "color": "#ee2a90"}, "encoding": {"text": {"field": "name"}}},
{"data": {"name": "slanted"}, "transform": [{"filter": "datum.name == 'CHARM II'"}], "mark": {"type": "text", "align": "center", "baseline": "middle", "font": "DejaVu Sans", "fontSize": 15, "angle": 355, "color": "#9a2bd6"}, "encoding": {"text": {"field": "name"}}}
]
}
